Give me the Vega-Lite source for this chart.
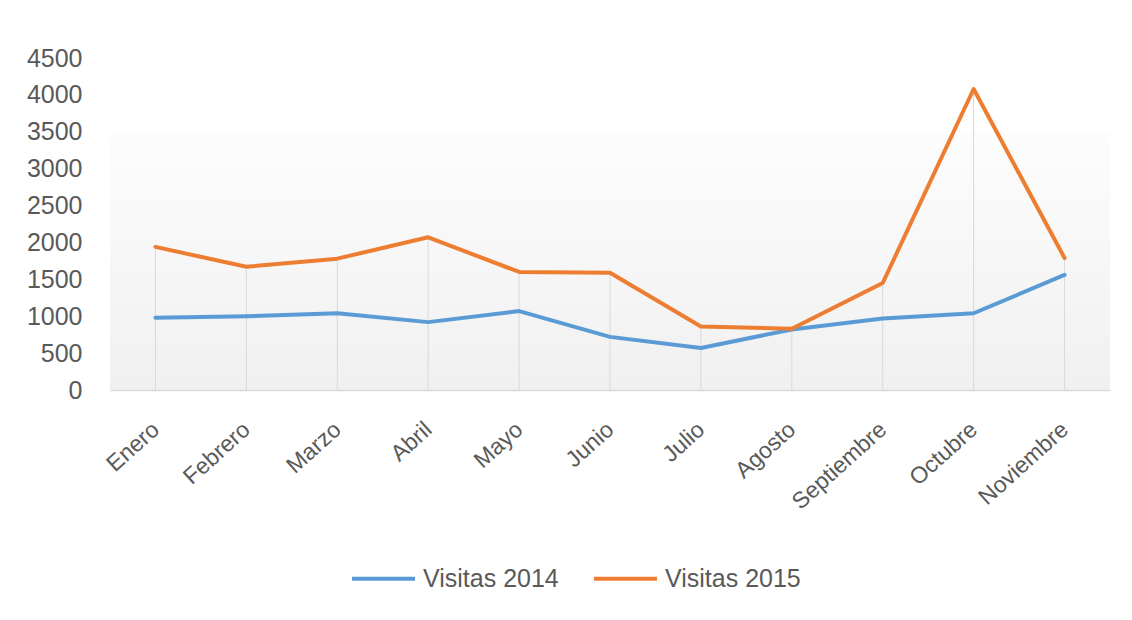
{
  "$schema": "https://vega.github.io/schema/vega-lite/v6.json",
  "width": 1000,
  "height": 332,
  "autosize": {"type": "none"},
  "padding": {"left": 110, "top": 58, "right": 22, "bottom": 230},
  "background": "white",
  "config": {
    "font": "Liberation Sans",
    "view": {
      "stroke": null,
      "fill": {
        "gradient": "linear",
        "x1": 0, "y1": 0, "x2": 0, "y2": 1,
        "stops": [
          {"offset": 0, "color": "#ffffff"},
          {"offset": 0.22, "color": "#ffffff"},
          {"offset": 0.225, "color": "#fdfdfd"},
          {"offset": 1, "color": "#f0f0f0"}
        ]
      }
    }
  },
  "data": {
    "values": [
      {"mes": "Enero", "serie": "Visitas 2014", "visitas": 980},
      {"mes": "Febrero", "serie": "Visitas 2014", "visitas": 1000},
      {"mes": "Marzo", "serie": "Visitas 2014", "visitas": 1040},
      {"mes": "Abril", "serie": "Visitas 2014", "visitas": 920},
      {"mes": "Mayo", "serie": "Visitas 2014", "visitas": 1070},
      {"mes": "Junio", "serie": "Visitas 2014", "visitas": 720},
      {"mes": "Julio", "serie": "Visitas 2014", "visitas": 570},
      {"mes": "Agosto", "serie": "Visitas 2014", "visitas": 820},
      {"mes": "Septiembre", "serie": "Visitas 2014", "visitas": 970},
      {"mes": "Octubre", "serie": "Visitas 2014", "visitas": 1040},
      {"mes": "Noviembre", "serie": "Visitas 2014", "visitas": 1560},
      {"mes": "Enero", "serie": "Visitas 2015", "visitas": 1940},
      {"mes": "Febrero", "serie": "Visitas 2015", "visitas": 1670},
      {"mes": "Marzo", "serie": "Visitas 2015", "visitas": 1780},
      {"mes": "Abril", "serie": "Visitas 2015", "visitas": 2070},
      {"mes": "Mayo", "serie": "Visitas 2015", "visitas": 1600},
      {"mes": "Junio", "serie": "Visitas 2015", "visitas": 1590},
      {"mes": "Julio", "serie": "Visitas 2015", "visitas": 860},
      {"mes": "Agosto", "serie": "Visitas 2015", "visitas": 830},
      {"mes": "Septiembre", "serie": "Visitas 2015", "visitas": 1450},
      {"mes": "Octubre", "serie": "Visitas 2015", "visitas": 4080},
      {"mes": "Noviembre", "serie": "Visitas 2015", "visitas": 1790}
    ]
  },
  "encoding": {
    "x": {
      "field": "mes",
      "type": "ordinal",
      "sort": ["Enero", "Febrero", "Marzo", "Abril", "Mayo", "Junio", "Julio", "Agosto", "Septiembre", "Octubre", "Noviembre"],
      "scale": {"type": "point", "padding": 0.5},
      "axis": {
        "title": null,
        "grid": false,
        "domain": true,
        "domainColor": "#d9d9d9",
        "domainWidth": 1.5,
        "ticks": false,
        "labelAngle": -42,
        "labelAlign": "right",
        "labelBaseline": "middle",
        "labelPadding": 36,
        "labelFontSize": 23,
        "labelColor": "#595959"
      }
    }
  },
  "layer": [
    {
      "transform": [
        {"aggregate": [{"op": "max", "field": "visitas", "as": "maxv"}], "groupby": ["mes"]}
      ],
      "mark": {"type": "rule", "color": "#d9d9d9", "strokeWidth": 1},
      "encoding": {
        "y": {
          "field": "maxv",
          "type": "quantitative",
          "scale": {"domain": [0, 4500], "nice": false},
          "axis": {
            "title": null,
            "values": [0, 500, 1000, 1500, 2000, 2500, 3000, 3500, 4000, 4500],
            "format": "d",
            "grid": false,
            "domain": false,
            "ticks": false,
            "labelPadding": 28,
            "labelFontSize": 25,
            "labelColor": "#595959"
          }
        },
        "y2": {"datum": 0}
      }
    },
    {
      "mark": {"type": "line", "strokeWidth": 4, "strokeCap": "round", "strokeJoin": "round"},
      "encoding": {
        "y": {
          "field": "visitas",
          "type": "quantitative",
          "scale": {"domain": [0, 4500], "nice": false},
          "axis": {
            "title": null,
            "values": [0, 500, 1000, 1500, 2000, 2500, 3000, 3500, 4000, 4500],
            "format": "d",
            "grid": false,
            "domain": false,
            "ticks": false,
            "labelPadding": 28,
            "labelFontSize": 25,
            "labelColor": "#595959"
          }
        },
        "color": {
          "field": "serie",
          "type": "nominal",
          "scale": {"domain": ["Visitas 2014", "Visitas 2015"], "range": ["#5b9bd5", "#ed7d31"]},
          "legend": {
            "title": null,
            "orient": "none",
            "direction": "horizontal",
            "legendX": 240,
            "legendY": 487,
            "symbolType": "stroke",
            "symbolSize": 3969,
            "symbolStrokeWidth": 4,
            "labelOffset": 6,
            "columnPadding": 27,
            "labelFontSize": 25,
            "labelColor": "#595959"
          }
        }
      }
    }
  ]
}
